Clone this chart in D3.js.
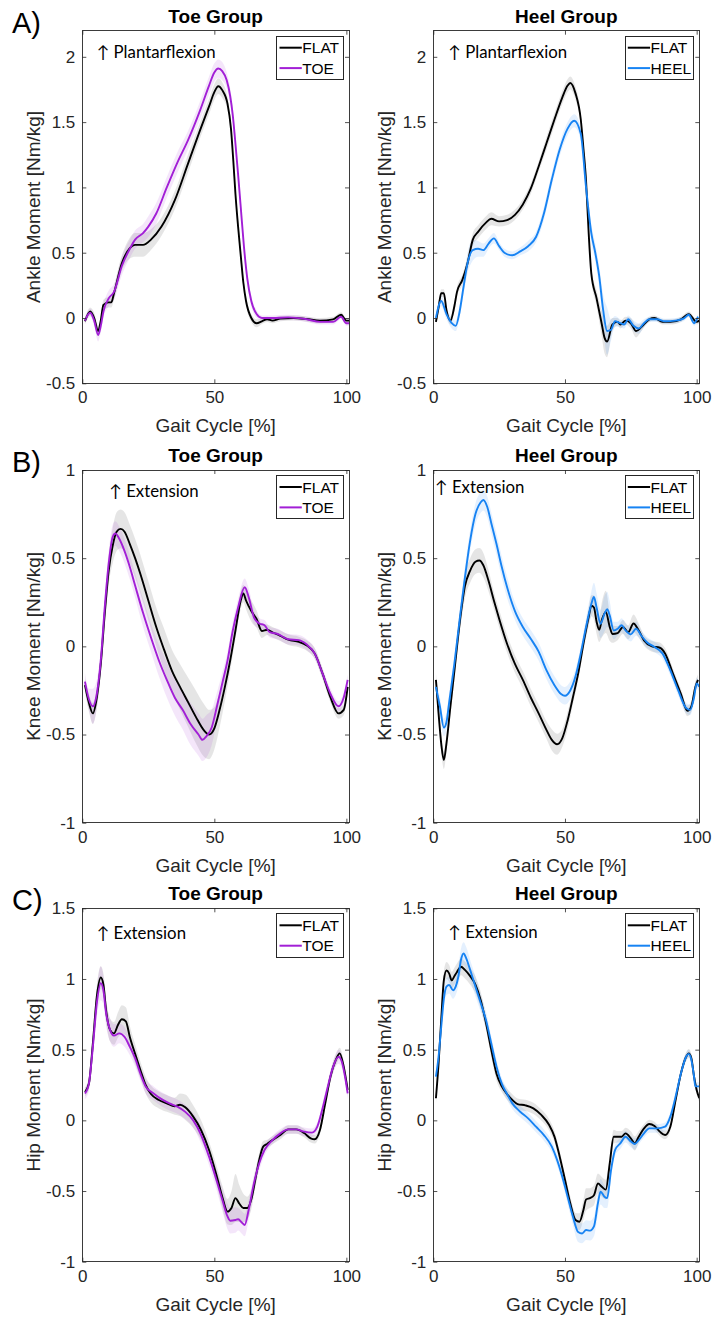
<!DOCTYPE html>
<html><head><meta charset="utf-8">
<script src="https://cdn.jsdelivr.net/npm/d3@7"></script>
<style>
body{margin:0;background:#fff;}
svg{display:block;}
</style></head>
<body>
<script>
// ---------- data (gait %, moment, band half-width) ----------
const gaitTicks = [0, 50, 100];
const ankleTicks = [-0.5, 0, 0.5, 1, 1.5, 2];
const kneeTicks = [-1, -0.5, 0, 0.5, 1];
const hipTicks = [-1, -0.5, 0, 0.5, 1, 1.5];
const panelLetters = ["A)", "B)", "C)"];
const groupTitles = ["Toe Group", "Heel Group"];
const yLabels = ["Ankle Moment [Nm/kg]", "Knee Moment [Nm/kg]", "Hip Moment [Nm/kg]"];
const annotations = ["\u2191 Plantarflexion", "\u2191 Extension", "\u2191 Extension"];
const seriesNames = ["FLAT", "TOE", "HEEL"];

const ankleToeFLAT = [[1,-0.025,0.02],[3,0.05,0.03],[4.5,0.0,0.04],[6,-0.1,0.04],[7,-0.02,0.04],[8,0.1,0.04],[10,0.12,0.04],[11,0.12,0.04],[12,0.19,0.05],[15,0.42,0.06],[18,0.535,0.08],[20,0.56,0.09],[23,0.56,0.09],[26,0.6,0.08],[30,0.7,0.07],[35,0.9,0.07],[40,1.18,0.07],[45,1.46,0.06],[48,1.62,0.06],[50,1.73,0.06],[51.5,1.775,0.06],[53,1.745,0.06],[55,1.64,0.05],[56.3,1.45,0.05],[57.2,1.2,0.05],[58,0.95,0.05],[59,0.7,0.05],[60,0.48,0.05],[61,0.27,0.04],[62,0.13,0.04],[64,0.0,0.03],[66,-0.04,0.03],[68,-0.025,0.02],[70,-0.01,0.02],[72,-0.02,0.02],[75,-0.005,0.02],[80,0,0.02],[85,-0.008,0.02],[90,-0.02,0.02],[95,-0.01,0.02],[98,0.025,0.02],[100,-0.02,0.02],[101,-0.02,0.02]];
const ankleToeTOE = [[1,-0.02,0.03],[3,0.04,0.03],[4.5,-0.02,0.04],[6,-0.13,0.05],[7,-0.06,0.05],[8,0.05,0.05],[10,0.15,0.06],[12,0.2,0.06],[15,0.4,0.07],[18,0.53,0.07],[20,0.6,0.07],[23,0.65,0.07],[25,0.7,0.08],[28,0.8,0.08],[32,1.0,0.08],[36,1.19,0.08],[40,1.36,0.07],[44.6,1.59,0.07],[48,1.78,0.07],[50,1.88,0.07],[51.5,1.91,0.07],[53,1.89,0.07],[54.7,1.82,0.06],[56,1.7,0.06],[57,1.55,0.06],[57.8,1.38,0.06],[59,1.1,0.06],[60,0.85,0.06],[61.2,0.55,0.05],[62.5,0.3,0.05],[64,0.13,0.04],[66,0.03,0.03],[68,0.0,0.02],[72,0.0,0.02],[78,0.005,0.02],[85,-0.01,0.02],[90,-0.03,0.02],[95,-0.03,0.02],[98,0.01,0.02],[100,-0.04,0.02],[101,-0.04,0.02]];
const ankleHeelFLAT = [[1,-0.03,0.02],[2,0.08,0.03],[3,0.19,0.03],[4,0.19,0.03],[5,0.06,0.03],[6.5,-0.02,0.03],[8,0.09,0.04],[9,0.2,0.04],[11,0.29,0.04],[13,0.42,0.05],[15,0.6,0.05],[17,0.66,0.05],[20,0.73,0.05],[22,0.76,0.05],[25,0.74,0.04],[28,0.75,0.04],[31,0.79,0.04],[34,0.87,0.04],[37,0.99,0.04],[40,1.16,0.04],[43,1.34,0.05],[46,1.52,0.05],[49,1.69,0.05],[51,1.78,0.05],[52,1.8,0.05],[54,1.72,0.05],[56,1.52,0.05],[57,1.3,0.05],[58,1.05,0.05],[59,0.65,0.05],[60,0.34,0.05],[62,0.15,0.06],[64,-0.05,0.1],[65,-0.15,0.12],[66,-0.18,0.12],[68,-0.05,0.05],[70,-0.03,0.03],[71,-0.05,0.03],[73,-0.02,0.03],[75,-0.04,0.04],[77,-0.1,0.05],[79,-0.07,0.03],[82,-0.01,0.02],[84,0,0.02],[87,-0.03,0.02],[90,-0.03,0.02],[94,-0.01,0.02],[97,0.03,0.02],[100,-0.03,0.02],[101,-0.02,0.02]];
const ankleHeelHEEL = [[1,0,0.03],[3,0.13,0.04],[5,0.03,0.04],[7,-0.04,0.04],[8.5,-0.06,0.04],[10,0.05,0.05],[11.5,0.24,0.06],[13,0.42,0.08],[15,0.52,0.08],[17,0.53,0.06],[19,0.52,0.05],[21,0.57,0.04],[23,0.61,0.04],[25,0.55,0.03],[27,0.5,0.03],[30,0.48,0.03],[33,0.51,0.03],[36,0.55,0.04],[39,0.62,0.04],[42,0.8,0.05],[45,1.06,0.05],[48,1.29,0.05],[51,1.45,0.05],[53.5,1.51,0.05],[56,1.41,0.05],[58,1.0,0.06],[60,0.65,0.07],[61.5,0.5,0.07],[63,0.32,0.08],[64.5,0.06,0.12],[66,-0.1,0.18],[67.5,-0.09,0.08],[69,-0.025,0.04],[71,-0.04,0.03],[72.5,-0.05,0.03],[74,-0.01,0.03],[76,-0.06,0.04],[78,-0.08,0.04],[80,-0.04,0.03],[82,-0.01,0.02],[85,-0.01,0.02],[88,-0.025,0.02],[92,-0.02,0.02],[95,-0.005,0.02],[97,0.025,0.02],[99,-0.04,0.02],[100.5,0.01,0.02]];

const kneeToeFLAT = [[1,-0.22,0.04],[2.5,-0.32,0.05],[4,-0.38,0.06],[5.5,-0.29,0.06],[7,-0.1,0.06],[8.5,0.185,0.07],[10,0.43,0.08],[11.5,0.57,0.1],[13,0.65,0.11],[14.5,0.666,0.11],[16,0.65,0.11],[18,0.58,0.11],[20,0.5,0.11],[22,0.41,0.11],[25,0.26,0.11],[28,0.11,0.11],[31,-0.02,0.12],[34,-0.14,0.12],[37,-0.23,0.13],[40,-0.315,0.14],[43,-0.4,0.15],[46,-0.475,0.15],[48,-0.5,0.14],[50,-0.465,0.12],[52,-0.36,0.1],[54,-0.23,0.08],[56,-0.08,0.06],[58,0.09,0.05],[60,0.26,0.05],[61,0.3,0.05],[62,0.26,0.05],[64,0.2,0.06],[66,0.155,0.05],[68,0.087,0.04],[70,0.094,0.03],[72,0.08,0.03],[75,0.06,0.03],[78,0.038,0.03],[82,0.025,0.03],[85,0.005,0.03],[88,-0.04,0.03],[91,-0.155,0.03],[94,-0.29,0.03],[97,-0.38,0.03],[99,-0.36,0.03],[100.5,-0.23,0.03]];
const kneeToeTOE = [[1,-0.2,0.05],[2.5,-0.3,0.06],[4,-0.34,0.1],[5.5,-0.27,0.08],[7,-0.08,0.07],[8.5,0.22,0.07],[10,0.47,0.07],[11.5,0.62,0.07],[12.5,0.64,0.07],[14,0.61,0.07],[16,0.54,0.07],[18,0.45,0.07],[20,0.345,0.07],[23,0.19,0.08],[26,0.05,0.08],[29,-0.08,0.09],[32,-0.19,0.1],[35,-0.29,0.1],[38,-0.36,0.11],[41,-0.44,0.12],[44,-0.5,0.12],[45.5,-0.53,0.12],[47,-0.51,0.12],[49,-0.46,0.1],[51,-0.34,0.08],[53,-0.21,0.06],[55,-0.08,0.05],[57,0.09,0.05],[59,0.22,0.05],[61.5,0.335,0.05],[63,0.28,0.05],[65,0.165,0.04],[67,0.13,0.03],[69,0.12,0.03],[71,0.08,0.03],[74,0.07,0.03],[78,0.04,0.03],[82,0.035,0.03],[85,0.01,0.03],[88,-0.04,0.03],[91,-0.155,0.03],[94,-0.27,0.03],[97,-0.34,0.03],[99,-0.29,0.03],[100.5,-0.19,0.03]];
const kneeHeelFLAT = [[1,-0.19,0.04],[2,-0.38,0.05],[3,-0.55,0.05],[4,-0.645,0.05],[5,-0.55,0.05],[6.5,-0.34,0.05],[8,-0.14,0.05],[10,0.13,0.06],[12,0.34,0.07],[14,0.43,0.07],[16,0.48,0.07],[17.5,0.487,0.07],[19,0.46,0.07],[21,0.37,0.06],[23,0.26,0.05],[25,0.157,0.05],[28,0.015,0.05],[31,-0.1,0.05],[34,-0.19,0.05],[37,-0.29,0.05],[40,-0.38,0.05],[43,-0.475,0.05],[45,-0.53,0.06],[47,-0.555,0.06],[49,-0.52,0.05],[51,-0.42,0.05],[53,-0.29,0.04],[55,-0.155,0.04],[57,0.015,0.04],[59,0.166,0.05],[60,0.23,0.06],[61,0.22,0.07],[62,0.14,0.07],[63,0.094,0.07],[64,0.15,0.1],[65.5,0.195,0.12],[67,0.11,0.08],[68,0.07,0.05],[70,0.075,0.04],[72,0.11,0.04],[74,0.08,0.04],[76,0.13,0.05],[78,0.09,0.04],[80,0.034,0.03],[83,0,0.03],[86,-0.008,0.03],[88,-0.04,0.03],[91,-0.155,0.03],[94,-0.27,0.03],[96.5,-0.366,0.03],[98,-0.34,0.03],[99.5,-0.23,0.03],[100.5,-0.19,0.03]];
const kneeHeelHEEL = [[1,-0.23,0.04],[2.5,-0.34,0.05],[4,-0.46,0.05],[5,-0.43,0.05],[6,-0.32,0.05],[8,-0.1,0.05],[10,0.15,0.05],[12,0.39,0.06],[14,0.6,0.06],[16,0.75,0.06],[18,0.817,0.06],[19,0.83,0.06],[20.5,0.79,0.06],[22,0.7,0.06],[24,0.58,0.06],[26,0.45,0.06],[28,0.336,0.06],[31,0.2,0.05],[34,0.11,0.05],[37,0.043,0.05],[40,-0.03,0.05],[43,-0.136,0.05],[46,-0.22,0.05],[48.5,-0.27,0.05],[50,-0.28,0.05],[52,-0.25,0.05],[54,-0.17,0.04],[56,-0.04,0.04],[58,0.11,0.05],[60,0.24,0.07],[61,0.28,0.08],[62,0.22,0.08],[63.5,0.128,0.08],[65,0.185,0.1],[66,0.21,0.1],[67,0.175,0.08],[68.5,0.09,0.05],[70,0.1,0.04],[71.5,0.12,0.04],[73,0.09,0.04],[75,0.068,0.04],[77,0.1,0.04],[79,0.06,0.03],[81,0.025,0.03],[84,-0.004,0.03],[87,-0.04,0.03],[90,-0.136,0.03],[93,-0.25,0.03],[96,-0.35,0.03],[97.5,-0.36,0.03],[99,-0.29,0.03],[100,-0.21,0.03],[101,-0.23,0.03]];

const hipToeFLAT = [[1,0.2,0.03],[2.5,0.26,0.04],[4,0.545,0.06],[5.5,0.875,0.08],[7,1.01,0.08],[8,0.96,0.08],[9,0.78,0.08],[10.5,0.64,0.08],[12,0.615,0.08],[13.5,0.675,0.09],[15,0.715,0.1],[16.5,0.7,0.1],[18,0.59,0.08],[20,0.47,0.07],[22,0.356,0.06],[24,0.25,0.06],[26,0.186,0.06],[29,0.144,0.06],[32,0.12,0.06],[35,0.1,0.06],[37,0.11,0.08],[39,0.092,0.09],[42,0.026,0.08],[45,-0.07,0.07],[48,-0.21,0.06],[51,-0.4,0.07],[53,-0.54,0.08],[55,-0.646,0.09],[56.5,-0.62,0.12],[58,-0.55,0.17],[59.5,-0.59,0.13],[61,-0.62,0.1],[62.5,-0.62,0.08],[64,-0.56,0.07],[65.5,-0.42,0.06],[67,-0.28,0.05],[68.5,-0.186,0.04],[70,-0.167,0.03],[72,-0.14,0.03],[75,-0.104,0.03],[78,-0.064,0.03],[81,-0.064,0.03],[84,-0.09,0.03],[86.5,-0.127,0.03],[88,-0.134,0.03],[90,-0.068,0.03],[92,0.12,0.04],[94,0.31,0.04],[96,0.427,0.04],[97.5,0.474,0.04],[99,0.38,0.04],[100.5,0.215,0.04]];
const hipToeTOE = [[1,0.19,0.04],[2.5,0.26,0.05],[4,0.52,0.07],[5.5,0.83,0.1],[7,0.97,0.12],[8,0.92,0.1],[9,0.76,0.09],[10.5,0.64,0.08],[12,0.6,0.08],[14,0.615,0.07],[16,0.59,0.07],[18,0.52,0.06],[20,0.44,0.06],[22,0.33,0.05],[24,0.24,0.05],[27,0.19,0.05],[30,0.15,0.05],[33,0.12,0.05],[36,0.097,0.05],[39,0.06,0.05],[42,0,0.05],[45,-0.104,0.06],[48,-0.257,0.06],[51,-0.434,0.07],[53,-0.56,0.08],[55,-0.68,0.09],[56,-0.71,0.09],[58,-0.705,0.09],[59,-0.7,0.08],[60.5,-0.724,0.08],[61.5,-0.74,0.08],[63,-0.634,0.07],[65,-0.446,0.06],[67,-0.304,0.05],[69,-0.21,0.04],[72,-0.14,0.03],[75,-0.092,0.03],[78,-0.064,0.03],[81,-0.064,0.03],[84,-0.08,0.03],[87,-0.087,0.03],[89,-0.045,0.03],[91,0.085,0.04],[93,0.24,0.04],[95,0.38,0.04],[97,0.45,0.05],[98,0.43,0.05],[99.5,0.31,0.04],[100.5,0.19,0.04]];
const hipHeelFLAT = [[1,0.156,0.04],[2,0.4,0.05],[3,0.71,0.06],[4,0.99,0.06],[5,1.06,0.06],[6,1.04,0.06],[7,0.99,0.06],[8,1.02,0.06],[9,1.05,0.06],[10.5,1.087,0.06],[12,1.064,0.06],[14,1.02,0.06],[16,0.96,0.06],[18,0.85,0.06],[20,0.69,0.05],[22,0.5,0.05],[24,0.33,0.05],[26,0.24,0.04],[28,0.186,0.04],[30,0.144,0.04],[32,0.115,0.04],[35,0.106,0.04],[38,0.085,0.04],[41,0.038,0.04],[44,-0.033,0.04],[46,-0.115,0.04],[48,-0.257,0.04],[50,-0.42,0.04],[52,-0.587,0.05],[54,-0.705,0.05],[55.5,-0.717,0.06],[57,-0.634,0.07],[58,-0.56,0.08],[59.5,-0.55,0.07],[61,-0.53,0.07],[62.5,-0.446,0.07],[64,-0.47,0.07],[65.5,-0.49,0.07],[67,-0.304,0.06],[68.5,-0.116,0.05],[70,-0.116,0.04],[71.5,-0.116,0.04],[73,-0.092,0.04],[75,-0.127,0.05],[76.5,-0.163,0.05],[78,-0.116,0.04],[80,-0.057,0.03],[82,-0.026,0.03],[84,-0.04,0.03],[86,-0.08,0.03],[88,-0.104,0.03],[90,-0.045,0.03],[92,0.144,0.03],[94,0.33,0.03],[96,0.45,0.03],[97,0.474,0.03],[98,0.44,0.03],[99,0.31,0.03],[100,0.215,0.03],[101,0.156,0.03]];
const hipHeelHEEL = [[1,0.31,0.04],[2,0.45,0.05],[3,0.66,0.06],[4,0.86,0.06],[5,0.946,0.06],[6,0.957,0.06],[7.5,0.92,0.06],[8.5,0.946,0.06],[9.5,1.016,0.07],[10.5,1.134,0.08],[11.5,1.18,0.08],[12.5,1.146,0.08],[14,1.064,0.07],[16,0.946,0.07],[18,0.83,0.06],[20,0.71,0.06],[22,0.545,0.05],[24,0.38,0.05],[26,0.26,0.04],[28,0.186,0.04],[30,0.12,0.04],[33,0.061,0.04],[36,0.014,0.04],[39,-0.045,0.04],[42,-0.104,0.04],[45,-0.186,0.04],[47,-0.28,0.04],[49,-0.4,0.04],[51,-0.54,0.05],[53,-0.68,0.06],[55,-0.79,0.07],[56.5,-0.8,0.07],[58,-0.776,0.07],[59.5,-0.78,0.07],[61,-0.75,0.07],[62.5,-0.587,0.08],[63.5,-0.505,0.09],[65,-0.54,0.08],[66,-0.55,0.07],[67.5,-0.35,0.05],[69,-0.21,0.04],[71,-0.163,0.04],[73,-0.116,0.04],[75,-0.15,0.04],[76.5,-0.167,0.04],[78,-0.14,0.03],[80,-0.092,0.03],[82,-0.057,0.03],[85,-0.057,0.03],[88,-0.045,0.03],[90,0.026,0.03],[92,0.167,0.03],[94,0.33,0.03],[96,0.45,0.03],[97,0.47,0.03],[98,0.427,0.03],[99,0.31,0.03],[99.5,0.24,0.03],[101,0.24,0.03]];

// ---------- styling / layout ----------
const W = 714, H = 1317;
const colX = [[82.3, 349], [433.3, 699.3]];
const rowY = [[30.7, 383.3], [470, 822.7], [908.3, 1261.7]];
const yDomains = [[-0.5, 2.2], [-1, 1], [-1, 1.5]];
const yTickSets = [ankleTicks, kneeTicks, hipTicks];
const annotOffsets = [[[14.4, 21], [15, 21]], [[27, 21], [1.7, 17.3]], [[14.4, 24.4], [15, 23.4]]];
const colors = {FLAT: "#000000", TOE: "#a21fd6", HEEL: "#1783f3"};
const bandColors = {FLAT: "rgba(0,0,0,0.10)", TOE: "rgba(170,60,220,0.13)", HEEL: "rgba(30,130,245,0.12)"};
const AX = "#262626";
const FONT = "'Liberation Sans', Arial, Helvetica, sans-serif";

const dataGrid = [
  [[ankleToeFLAT, ankleToeTOE], [ankleHeelFLAT, ankleHeelHEEL]],
  [[kneeToeFLAT, kneeToeTOE], [kneeHeelFLAT, kneeHeelHEEL]],
  [[hipToeFLAT, hipToeTOE], [hipHeelFLAT, hipHeelHEEL]]
];

const svg = d3.select("body").append("svg").attr("width", W).attr("height", H)
  .style("font-family", FONT);

const defs = svg.append("defs");

for (let r = 0; r < 3; r++) {
  // panel letter
  svg.append("text").attr("x", 12).attr("y", rowY[r][0] + 2)
    .attr("font-size", 29).attr("fill", "#000").text(panelLetters[r]);

  for (let c = 0; c < 2; c++) {
    const [x0, x1] = colX[c];
    const [y0, y1] = rowY[r];
    const x = d3.scaleLinear().domain([0, 101]).range([x0, x1]);
    const y = d3.scaleLinear().domain(yDomains[r]).range([y1, y0]);
    const cid = `clip${r}${c}`;
    defs.append("clipPath").attr("id", cid).append("rect")
      .attr("x", x0).attr("y", y0).attr("width", x1 - x0).attr("height", y1 - y0);

    const g = svg.append("g");
    const other = c === 0 ? "TOE" : "HEEL";
    const series = [["FLAT", dataGrid[r][c][0]], [other, dataGrid[r][c][1]]];

    const area = d3.area().x(d => x(d[0])).y0(d => y(d[1] - d[2])).y1(d => y(d[1] + d[2])).curve(d3.curveMonotoneX);
    const line = d3.line().x(d => x(d[0])).y(d => y(d[1])).curve(d3.curveMonotoneX);

    const plot = g.append("g").attr("clip-path", `url(#${cid})`);
    series.forEach(([name, pts]) => {
      plot.append("path").attr("d", area(pts)).attr("fill", bandColors[name]).attr("stroke", "none");
    });
    series.forEach(([name, pts]) => {
      plot.append("path").attr("d", line(pts)).attr("fill", "none")
        .attr("stroke", colors[name]).attr("stroke-width", 1.9).attr("stroke-linejoin", "round");
    });

    // axes
    const fmt = d => String(d);
    const axL = g.append("g").attr("transform", `translate(${x0},0)`)
      .call(d3.axisLeft(y).tickValues(yTickSets[r]).tickFormat(fmt).tickSizeInner(-4).tickSizeOuter(0).tickPadding(7));
    const axB = g.append("g").attr("transform", `translate(0,${y1})`)
      .call(d3.axisBottom(x).tickValues(gaitTicks).tickFormat(fmt).tickSizeInner(-4).tickSizeOuter(0).tickPadding(8));
    const axR = g.append("g").attr("transform", `translate(${x1},0)`)
      .call(d3.axisRight(y).tickValues(yTickSets[r]).tickFormat("").tickSizeInner(-4).tickSizeOuter(0));
    const axT = g.append("g").attr("transform", `translate(0,${y0})`)
      .call(d3.axisTop(x).tickValues(gaitTicks).tickFormat("").tickSizeInner(-4).tickSizeOuter(0));
    [axL, axB, axR, axT].forEach(a => {
      a.select(".domain").remove();
      a.selectAll(".tick line").attr("stroke", AX).attr("stroke-width", 0.8);
      a.selectAll(".tick text").attr("fill", AX).attr("font-size", 17).attr("font-family", FONT);
    });
    g.append("rect").attr("x", x0).attr("y", y0).attr("width", x1 - x0).attr("height", y1 - y0)
      .attr("fill", "none").attr("stroke", AX).attr("stroke-width", 0.9).attr("shape-rendering", "crispEdges");

    // title
    g.append("text").attr("x", (x0 + x1) / 2).attr("y", y0 - 8).attr("text-anchor", "middle")
      .attr("font-size", 19).attr("font-weight", "bold").attr("fill", "#000").text(groupTitles[c]);
    // x label
    g.append("text").attr("x", (x0 + x1) / 2).attr("y", y1 + 49).attr("text-anchor", "middle")
      .attr("font-size", 19).attr("fill", AX).text("Gait Cycle [%]");
    // y label
    g.append("text").attr("transform", `translate(${x0 - 49},${(y0 + y1) / 2}) rotate(-90)`)
      .attr("text-anchor", "middle").attr("dy", "0.35em")
      .attr("font-size", 19).attr("fill", AX).text(yLabels[r]);
    // annotation
    const [ax, ay] = annotOffsets[r][c];
    g.append("text").attr("x", x0 + ax).attr("y", y0 + ay).attr("dy", "0.35em")
      .attr("font-family", "Lato, 'Open Sans', sans-serif").attr("font-size", 16.8).attr("fill", "#000")
      .text(annotations[r]);

    // legend
    const lw = c === 0 ? 66.6 : 68.6;
    const lx = x1 - 5.6 - lw, ly = y0 + 5.5;
    const leg = g.append("g");
    leg.append("rect").attr("x", lx).attr("y", ly).attr("width", lw).attr("height", 43.3)
      .attr("fill", "#fff").attr("stroke", AX).attr("stroke-width", 1).attr("shape-rendering", "crispEdges");
    series.forEach(([name], i) => {
      const yy = ly + 11.5 + i * 20.4;
      leg.append("line").attr("x1", lx + 2.7).attr("x2", lx + 25).attr("y1", yy).attr("y2", yy)
        .attr("stroke", colors[name]).attr("stroke-width", 2);
      leg.append("text").attr("x", lx + 25.5).attr("y", yy).attr("dy", "0.36em")
        .attr("font-size", 15.5).attr("fill", "#000").text(name);
    });
  }
}
</script>
</body></html>
